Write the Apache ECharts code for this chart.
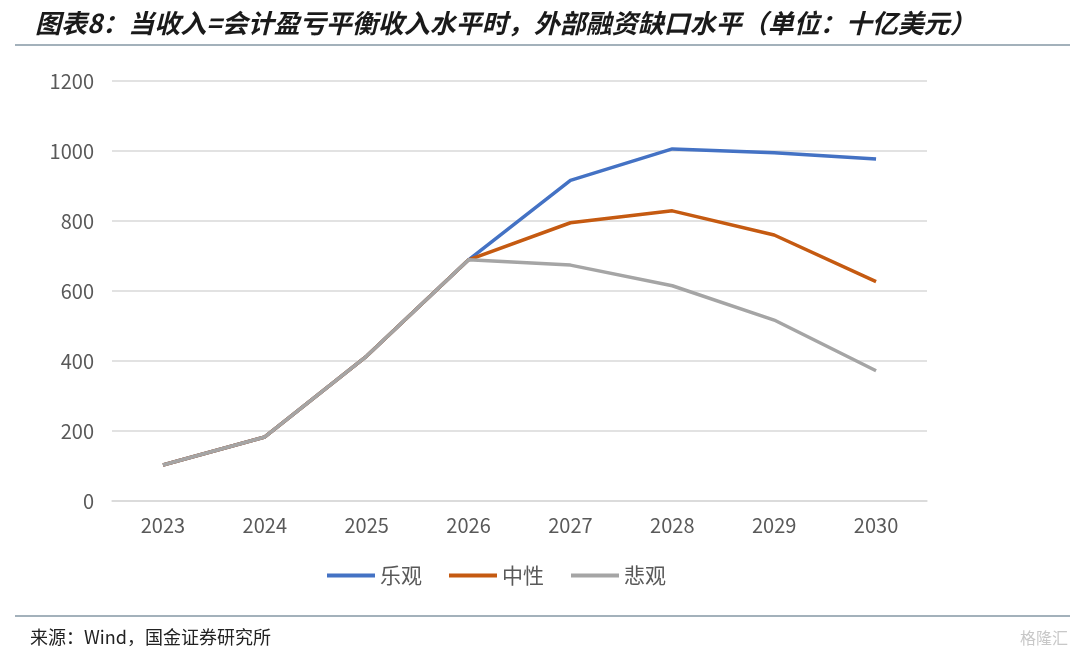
<!DOCTYPE html>
<html>
<head>
<meta charset="utf-8">
<script src="https://cdn.jsdelivr.net/npm/echarts@6/dist/echarts.min.js"></script>
<style>
  html, body { margin: 0; padding: 0; background: #fff; }
  #main { width: 1080px; height: 661px; }
</style>
</head>
<body>
<div id="main"></div>
<script>
// 数据
var years = ['2023', '2024', '2025', '2026', '2027', '2028', '2029', '2030'];
var optimistic = [103, 183, 414, 689, 916, 1006, 995, 977];
var neutral = [103, 183, 414, 689, 795, 829, 760, 627];
var pessimistic = [103, 183, 414, 689, 674, 615, 517, 372];
var yTicks = [0, 200, 400, 600, 800, 1000, 1200];

var chart = echarts.init(document.getElementById('main'));

var lineStyleOf = function (color) {
    return { color: color, width: 3.5 };
};

chart.setOption({
    animation: false,
    title: {
        text: '图表8：当收入=会计盈亏平衡收入水平时，外部融资缺口水平（单位：十亿美元）',
        left: 30,
        top: 5,
        textStyle: {
            fontFamily: 'Noto Sans CJK SC',
            fontSize: 26,
            fontWeight: 'bold',
            fontStyle: 'italic',
            color: '#1a1a1a'
        }
    },
    graphic: [
        {
            type: 'line',
            shape: { x1: 15, y1: 45, x2: 1070, y2: 45 },
            style: { stroke: '#8497A5', lineWidth: 1.5 }
        },
        {
            type: 'line',
            shape: { x1: 15, y1: 616, x2: 1070, y2: 616 },
            style: { stroke: '#8497A5', lineWidth: 1.5 }
        },
        {
            type: 'text',
            left: 30,
            top: 628,
            style: {
                text: '来源：Wind，国金证券研究所',
                font: '18px "Noto Sans CJK SC"',
                fill: '#222'
            }
        },
        {
            type: 'text',
            right: 12,
            top: 630,
            style: {
                text: '格隆汇',
                font: '16px "Noto Sans CJK SC"',
                fill: '#c8c8c8'
            }
        }
    ],
    legend: {
        top: 560,
        left: 322,
        itemWidth: 48,
        itemHeight: 4,
        itemGap: 27,
        icon: 'rect',
        textStyle: {
            fontFamily: 'Noto Sans CJK SC',
            fontSize: 21,
            color: '#595959'
        },
        data: ['乐观', '中性', '悲观']
    },
    grid: {
        left: 112,
        right: 153,
        top: 81,
        bottom: 160
    },
    xAxis: {
        type: 'category',
        data: years,
        boundaryGap: true,
        axisLine: { lineStyle: { color: '#D9D9D9', width: 1.5 } },
        axisTick: { show: false },
        axisLabel: {
            fontFamily: 'Noto Sans CJK SC',
            fontSize: 20,
            color: '#595959',
            margin: 14
        }
    },
    yAxis: {
        type: 'value',
        min: yTicks[0],
        max: yTicks[yTicks.length - 1],
        interval: 200,
        axisLine: { show: false },
        axisTick: { show: false },
        splitLine: { lineStyle: { color: '#D9D9D9', width: 1.5 } },
        axisLabel: {
            fontFamily: 'Noto Sans CJK SC',
            fontSize: 20,
            color: '#595959',
            margin: 18,
            formatter: function (v) { return String(v); }
        }
    },
    series: [
        {
            name: '乐观',
            type: 'line',
            data: optimistic,
            symbol: 'none',
            color: '#4472C4',
            lineStyle: lineStyleOf('#4472C4'),
            z: 3
        },
        {
            name: '中性',
            type: 'line',
            data: neutral,
            symbol: 'none',
            color: '#C55A11',
            lineStyle: lineStyleOf('#C55A11'),
            z: 4
        },
        {
            name: '悲观',
            type: 'line',
            data: pessimistic,
            symbol: 'none',
            color: '#A5A5A5',
            lineStyle: lineStyleOf('#A5A5A5'),
            z: 5
        }
    ]
});
</script>
</body>
</html>
